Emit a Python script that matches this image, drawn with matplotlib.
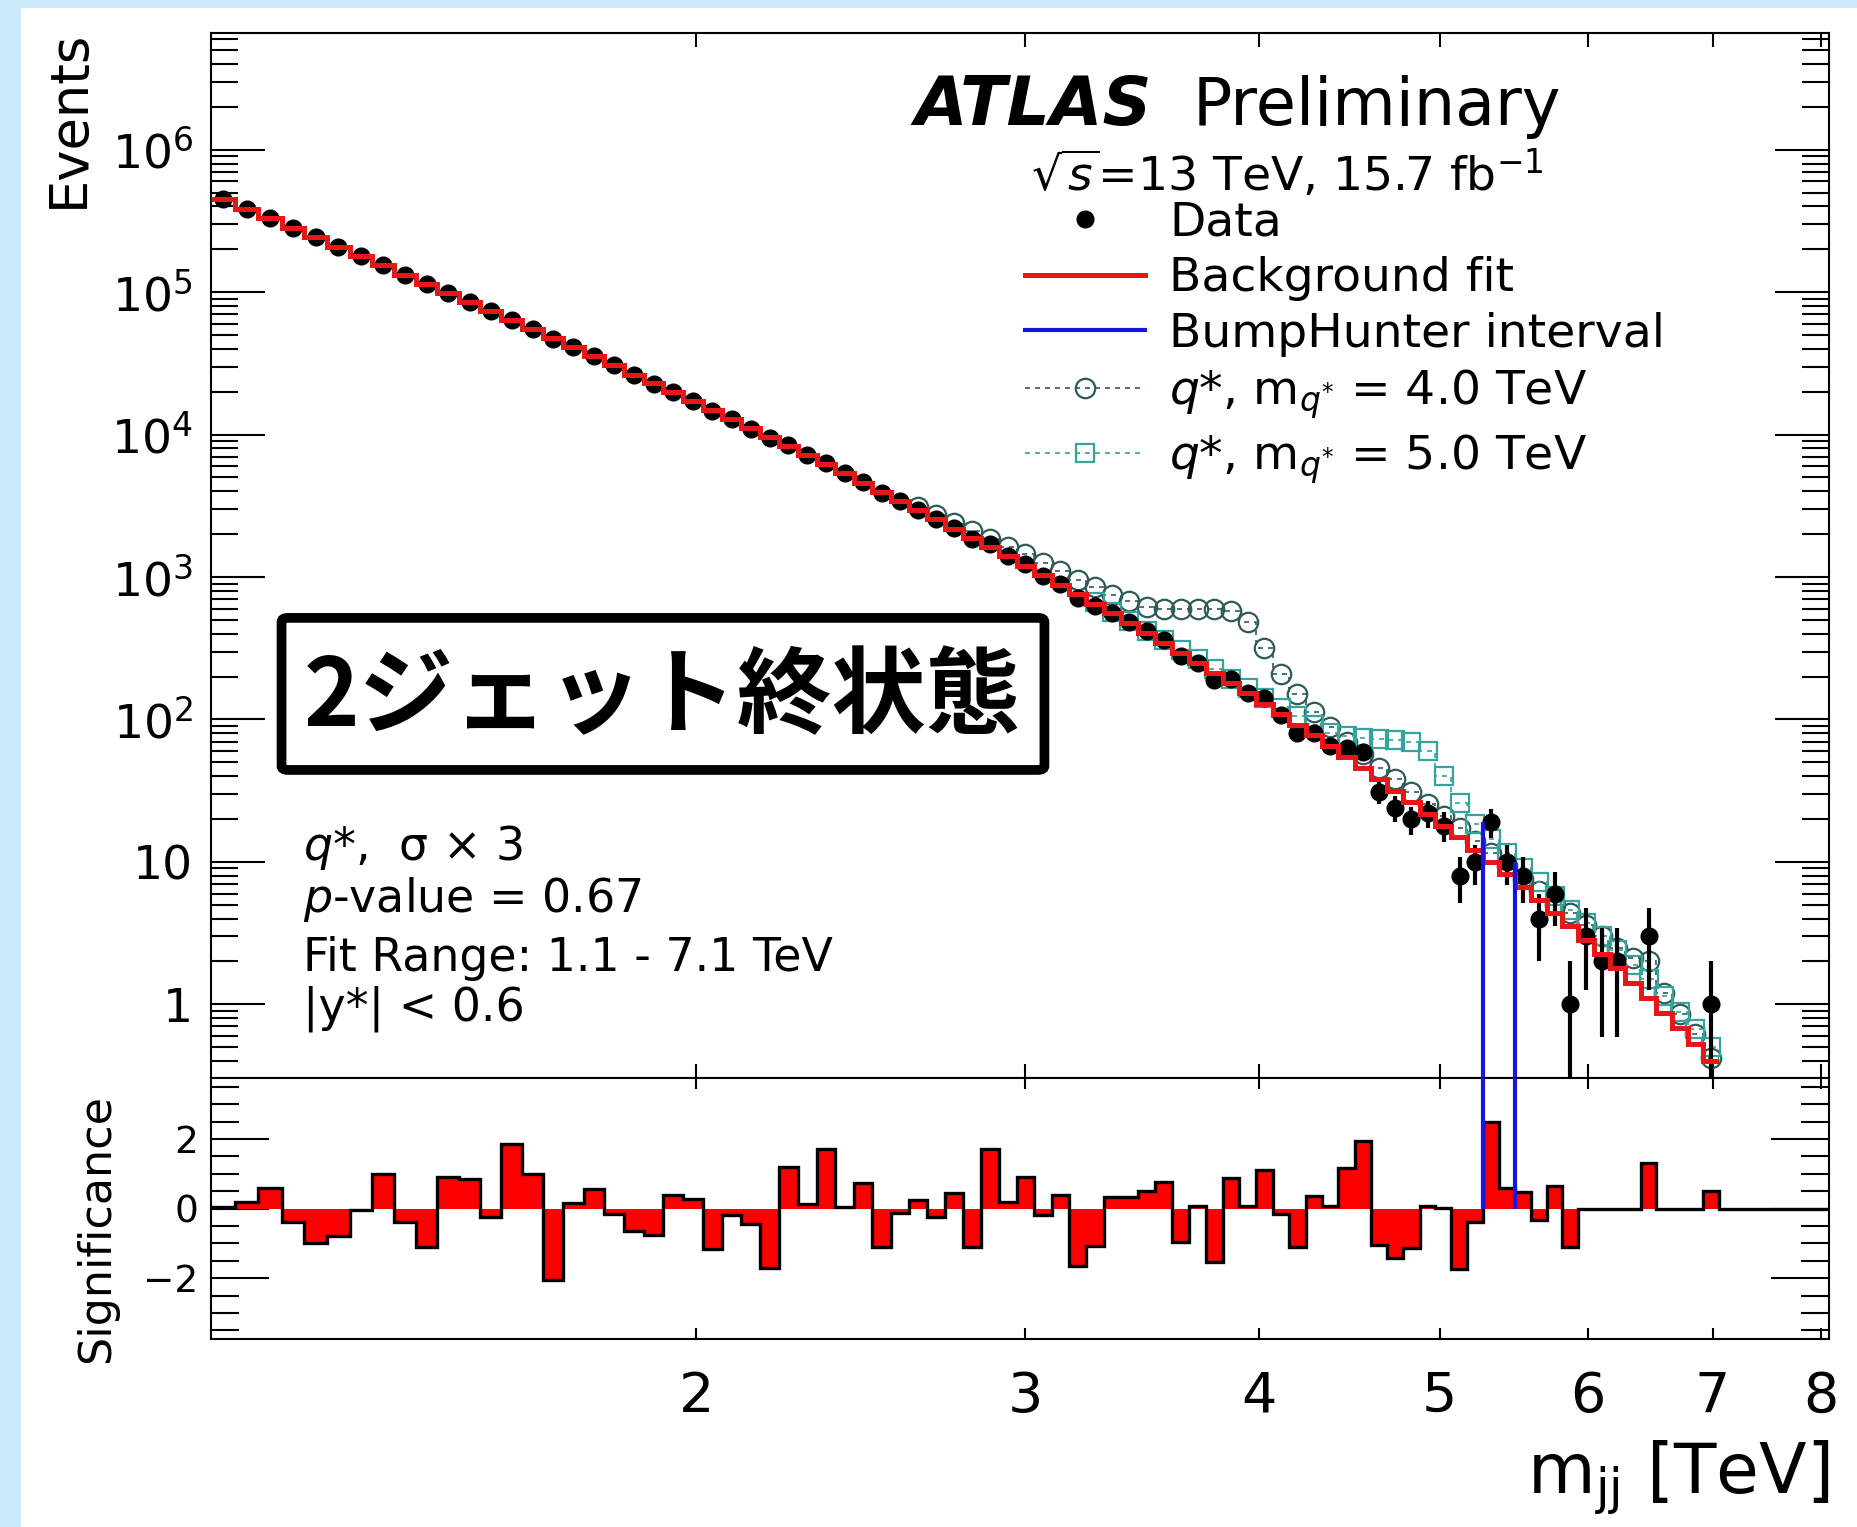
import numpy as np
import matplotlib
matplotlib.use("Agg")
import matplotlib.pyplot as plt
from matplotlib.patches import Rectangle, FancyBboxPatch
from matplotlib.lines import Line2D
from matplotlib.ticker import FixedLocator, FixedFormatter, LogLocator, MultipleLocator, NullLocator, NullFormatter

plt.rcParams['font.family'] = ['DejaVu Sans']
plt.rcParams['mathtext.fontset'] = 'dejavusans'

# dijet mass bin edges [TeV]; bins after 7.052 only carry the empty significance tail
edges = [1.100, 1.133, 1.166, 1.200, 1.234, 1.269, 1.305, 1.341, 1.378, 1.416,
         1.454, 1.493, 1.533, 1.573, 1.614, 1.656, 1.698, 1.741, 1.785, 1.830,
         1.875, 1.921, 1.968, 2.016, 2.065, 2.114, 2.164, 2.215, 2.267, 2.320,
         2.374, 2.429, 2.485, 2.542, 2.600, 2.659, 2.719, 2.780, 2.842, 2.905,
         2.969, 3.034, 3.100, 3.167, 3.235, 3.305, 3.376, 3.448, 3.521, 3.596,
         3.672, 3.749, 3.827, 3.907, 3.988, 4.070, 4.154, 4.239, 4.326, 4.414,
         4.504, 4.595, 4.688, 4.782, 4.878, 4.975, 5.074, 5.175, 5.277, 5.381,
         5.487, 5.595, 5.705, 5.817, 5.931, 6.047, 6.165, 6.285, 6.407, 6.531,
         6.658, 6.787, 6.918, 7.052, 7.188, 7.326, 7.467, 7.610, 7.756, 7.904,
         8.055, 8.200]

# background fit, events per bin (fit range 1.1 - 7.1 TeV)
bkg = [450000, 385000, 330000, 283000, 243000, 209000, 179600, 154600, 133000, 114500,
       98800, 85100, 73400, 63400, 54700, 47300, 40900, 35400, 30600, 26400,
       22900, 19800, 17110, 14790, 12790, 11080, 9580, 8290, 7170, 6190,
       5350, 4610, 3980, 3430, 2960, 2550, 2190, 1888, 1624, 1396,
       1200, 1030, 884, 759, 649, 555, 474, 405, 345, 294,
       250, 212, 180, 152.5, 129, 109, 91.9, 77.3, 64.9, 54.4,
       45.5, 38.0, 31.6, 26.3, 21.8, 18.0, 14.9, 12.2, 10.0, 8.20,
       6.68, 5.42, 4.38, 3.53, 2.83, 2.26, 1.79, 1.42, 1.11, 0.872,
       0.677, 0.523, 0.401]

# observed events per bin (0 = empty, not drawn)
data = [450034, 385124, 330344, 282787, 242507, 208634, 179579, 154993, 132854, 114128,
        99083, 85348, 73332, 63866, 54934, 46855, 40930, 35503, 30574, 26295,
        22787, 19856, 17145, 14650, 12767, 11033, 9413, 8399, 7180, 6324,
        5352, 4659, 3911, 3423, 2972, 2538, 2211, 1839, 1693, 1403,
        1231, 1024, 895, 714, 622, 563, 481, 415, 359, 278,
        251, 189, 192, 153, 141, 107, 81, 80, 65, 63,
        59, 31, 24, 20, 22, 18, 8, 10, 19, 10,
        8, 4, 6, 1, 3, 2, 2, 0, 3, 0,
        0, 0, 1]

# bin-by-bin significance (data vs fit)
sig = [0.05, 0.2, 0.6, -0.4, -1.0, -0.8, -0.05, 1.0, -0.4, -1.1,
       0.9, 0.85, -0.25, 1.85, 1.0, -2.05, 0.15, 0.55, -0.15, -0.65,
       -0.75, 0.4, 0.27, -1.15, -0.2, -0.45, -1.7, 1.2, 0.12, 1.7,
       0.03, 0.72, -1.1, -0.12, 0.23, -0.23, 0.45, -1.12, 1.7, 0.18,
       0.9, -0.2, 0.38, -1.65, -1.07, 0.33, 0.33, 0.49, 0.75, -0.95,
       0.07, -1.55, 0.87, 0.08, 1.1, -0.17, -1.12, 0.35, 0.07, 1.17,
       1.95, -1.05, -1.42, -1.13, 0.08, 0.02, -1.73, -0.39, 2.5, 0.58,
       0.46, -0.33, 0.65, -1.1, 0, 0, 0, 0, 1.31, 0,
       0, 0, 0.49, 0, 0, 0, 0, 0, 0, 0, 0]

# background + q* signal (sigma x 3), first shown bin index given separately
q4_start = 34
q4 = [3110, 2730, 2390, 2100, 1850, 1630, 1440, 1260,
      1100, 960, 845, 750, 675, 620, 600, 595, 595, 595,
      580, 480, 320, 210, 150, 112, 88, 70, 57, 46,
      38, 31, 25.5, 21, 17.2, 14.0, 11.5, 9.4, 7.6, 6.2,
      5.0, 4.4, 3.6, 3.0, 2.5, 2.1, 2.0, 1.2, 0.85, 0.62, 0.42]
q5_start = 44
q5 = [665, 570, 490, 420, 360, 308, 264, 226, 193,
      165, 141, 121, 105, 91, 81, 76, 74, 73, 72,
      70, 60, 40, 26, 18.5, 14.5, 11.5, 9.0, 7.2, 5.8,
      4.6, 3.7, 3.0, 2.4, 1.9, 1.5, 1.15, 0.88, 0.67, 0.50]

# BumpHunter interval: first and last bin index
bh_first, bh_last = 68, 69

bg_blue = '#cce8fb'
red = '#e81616'
blue = '#1616e0'
c_q4 = '#2e5b57'
c_q5 = '#36a39d'

edges = np.array(edges)
nfit = len(bkg)
fit_edges = edges[:nfit + 1]
centers = 0.5 * (fit_edges[:-1] + fit_edges[1:])
data = np.array(data, dtype=float)
has = data > 0

W, H = 1857, 1527
fig = plt.figure(figsize=(W / 100, H / 100), dpi=100)
fig.add_artist(Rectangle((0, 0), 21 / W, 1, transform=fig.transFigure,
                         fc=bg_blue, ec='none', zorder=-1))
fig.add_artist(Rectangle((0, 1 - 8 / H), 1, 8 / H, transform=fig.transFigure,
                         fc=bg_blue, ec='none', zorder=-1))

ax1 = fig.add_axes([211 / W, 1 - 1078 / H, 1618 / W, 1045 / H])
ax2 = fig.add_axes([211 / W, 1 - 1339 / H, 1618 / W, 261 / H])

# ---- upper panel
i4 = slice(q4_start, q4_start + len(q4))
i5 = slice(q5_start, q5_start + len(q5))
ax1.stairs(q4, fit_edges[q4_start:q4_start + len(q4) + 1], baseline=None,
           color=c_q4, ls=(0, (3, 3)), lw=1.2, zorder=2)
ax1.plot(centers[i4], q4, 'o', mfc='none', mec=c_q4, ms=14, mew=1.6, zorder=2)
ax1.stairs(q5, fit_edges[q5_start:q5_start + len(q5) + 1], baseline=None,
           color=c_q5, ls=(0, (3, 3)), lw=1.2, zorder=2)
ax1.plot(centers[i5], q5, 's', mfc='none', mec=c_q5, ms=13, mew=1.6, zorder=2)

ax1.errorbar(centers[has], data[has], yerr=np.sqrt(data[has]), fmt='o', color='black',
             ms=12, elinewidth=3, capsize=0, zorder=3)
ax1.stairs(bkg, fit_edges, baseline=None, color=red, lw=3.6, zorder=4)

ymin, ymax = 0.304, 6.6e6
ax1.vlines(fit_edges[bh_first], ymin, data[bh_first], color=blue, lw=3, zorder=5)
ax1.vlines(fit_edges[bh_last + 1], ymin, data[bh_last], color=blue, lw=3, zorder=5)

ax1.set_xscale('log')
ax1.set_yscale('log')
ax1.set_xlim(1.1, 8.08)
ax1.set_ylim(ymin, ymax)

xt = [2, 3, 4, 5, 6, 7, 8]
for ax in (ax1, ax2):
    ax.xaxis.set_major_locator(FixedLocator(xt))
    ax.xaxis.set_major_formatter(FixedFormatter([str(v) for v in xt]))
    ax.xaxis.set_minor_locator(NullLocator())
    ax.xaxis.set_minor_formatter(NullFormatter())
    for s in ax.spines.values():
        s.set_linewidth(1.5)
    ax.tick_params(which='both', direction='in', top=True, right=True, width=1.5)

ax1.yaxis.set_major_locator(FixedLocator(10.0 ** np.arange(0, 7)))
ax1.yaxis.set_major_formatter(FixedFormatter(['1', '10'] + [r'$10^{%d}$' % k for k in range(2, 7)]))
ax1.yaxis.set_minor_locator(LogLocator(base=10, subs=np.arange(2, 10), numticks=30))
ax1.yaxis.set_minor_formatter(NullFormatter())
ax1.tick_params(axis='x', which='major', length=10, labelbottom=False)
ax1.tick_params(axis='y', which='major', length=39, pad=13, labelsize=34)
ax1.tick_params(axis='y', which='minor', length=19.5)
ax1.set_ylabel('Events', loc='top', fontsize=38)
ax1.yaxis.set_label_coords(-0.072, 1.003)

# text
ax1.text(0.4345, 0.9124, 'ATLAS', transform=ax1.transAxes, fontsize=49,
         fontweight='bold', fontstyle='italic', va='baseline')
ax1.text(0.6069, 0.9124, 'Preliminary', transform=ax1.transAxes, fontsize=47, va='baseline')
ax1.text(0.5068, 0.8488, r'$\sqrt{s}$=13 TeV, 15.7 fb$^{-1}$', transform=ax1.transAxes,
         fontsize=34, va='baseline')

handles = [
    Line2D([], [], ls='none', marker='o', color='black', ms=12),
    Line2D([], [], color=red, lw=3.6),
    Line2D([], [], color=blue, lw=3),
    Line2D([], [], color=c_q4, ls=(0, (3, 3)), lw=1.2, marker='o', mfc='none', ms=14, mew=1.6),
    Line2D([], [], color=c_q5, ls=(0, (3, 3)), lw=1.2, marker='s', mfc='none', ms=13, mew=1.6),
]
labels = ['Data', 'Background fit', 'BumpHunter interval',
          r'$q$*, m$_{q^{*}}$ = 4.0 TeV', r'$q$*, m$_{q^{*}}$ = 5.0 TeV']
ax1.legend(handles, labels, loc='upper left', bbox_to_anchor=(0.503, 0.840),
           frameon=False, fontsize=34, handlelength=2.55, handletextpad=0.5,
           labelspacing=0.23, borderpad=0, borderaxespad=0)

info = [r'$q$*,  σ × 3', r'$p$-value = 0.67', 'Fit Range: 1.1 - 7.1 TeV', '|y*| < 0.6']
for txt, yy in zip(info, [0.2086, 0.1592, 0.1027, 0.0555]):
    ax1.text(0.0569, yy, txt, transform=ax1.transAxes, fontsize=33, va='baseline')

box = FancyBboxPatch((0.0436, 0.2948), 0.4715, 0.1455, boxstyle='round,pad=0,rounding_size=0.004',
                     transform=ax1.transAxes, fc='white', ec='black', lw=7, zorder=6)
ax1.add_patch(box)
ax1.text(0.2787, 0.3630, '2ジェット終状態', transform=ax1.transAxes, fontsize=68,
         family='Noto Sans CJK JP', fontweight='bold', ha='center', va='center', zorder=7)

# ---- lower panel
ax2.stairs(sig, edges, fill=True, color='#ff0000', baseline=0, zorder=2)
ax2.stairs(sig, edges, color='black', lw=2.4, baseline=None, zorder=3)
ax2.vlines([fit_edges[bh_first], fit_edges[bh_last + 1]], 0, 3.75, color=blue, lw=3, zorder=4)
ax2.set_xscale('log')
ax2.set_xlim(1.1, 8.08)
ax2.set_ylim(-3.75, 3.75)
ax2.xaxis.set_major_locator(FixedLocator(xt))
ax2.xaxis.set_major_formatter(FixedFormatter([str(v) for v in xt]))
ax2.xaxis.set_minor_locator(NullLocator())
ax2.yaxis.set_major_locator(FixedLocator([-2, 0, 2]))
ax2.yaxis.set_major_formatter(FixedFormatter(['\u22122', '0', '2']))
ax2.yaxis.set_minor_locator(MultipleLocator(0.5))
ax2.tick_params(axis='x', which='major', length=8, pad=22, labelsize=40)
ax2.tick_params(axis='y', which='major', length=42, pad=9, labelsize=27)
ax2.tick_params(axis='y', which='minor', length=20)
ax2.set_ylabel('Significance', fontsize=32)
ax2.yaxis.set_label_coords(-0.0575, 0.4234)
ax2.set_xlabel(r'm$_{\mathrm{jj}}$ [TeV]', loc='right', fontsize=50)
ax2.xaxis.set_label_coords(1.0, -0.38)

fig.savefig('out.png', dpi=100)
